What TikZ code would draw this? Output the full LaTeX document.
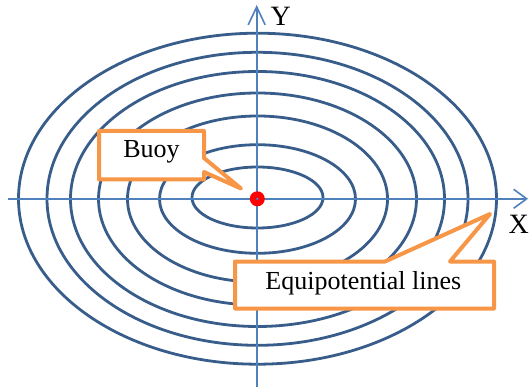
\documentclass[tikz,border=0pt]{standalone}
\usepackage{fontspec}
\setmainfont{Liberation Serif}
\usetikzlibrary{arrows.meta}
\definecolor{ellblue}{HTML}{385D8A}
\definecolor{axblue}{HTML}{4F81BD}
\definecolor{calloutorange}{HTML}{F79646}
\begin{document}
\begin{tikzpicture}[x=1pt,y=-1pt,
  equi/.style={draw=ellblue,line width=2.8pt},
  axisline/.style={draw=axblue,line width=1.6pt},
  calloutbox/.style={draw=calloutorange,fill=white,line width=4pt,line join=round},
  lbl/.style={inner sep=0pt,anchor=base,font=\fontsize{26}{30}\selectfont},
  axlbl/.style={inner sep=0pt,anchor=base west,font=\fontsize{28}{32}\selectfont}]
\useasboundingbox (0,0) rectangle (529,387);
\coordinate (O) at (257.3,198.8);
\foreach \a/\b/\c in {65.5/30.5/197.5, 98/54.3/199, 130/83/199, 159/106/199, 187/127.5/199, 210.5/146.5/198.8, 239/165.5/198.7}
  \draw[equi] (257.5,\c) ellipse [x radius=\a, y radius=\b];
% axes
\coordinate (xs) at (8,198.8);
\coordinate (xe) at (528,198.8);
\coordinate (ys) at (256.7,390);
\coordinate (ye) at (256.7,5);
\draw[axisline,-{Straight Barb[length=13pt,width=19pt]}] (xs) -- (xe);
\draw[axisline,-{Straight Barb[length=18pt,width=17pt]}] (ys) -- (ye);
% buoy
\node[circle,fill=red,minimum size=15pt,inner sep=0pt] (buoy) at (O) {};
\node[circle,fill=axblue,minimum size=2.8pt,inner sep=0pt] (buoyc) at (O) {};
% callouts
\coordinate (btip) at (241,188.5);
\draw[calloutbox] (99,131) -- (204,131) -- (204,158) -- (btip) -- (204,172) -- (204,179.5) -- (99,179.5) -- cycle;
\node[lbl] (buoytxt) at (151.5,157.7) {Buoy};
\coordinate (etip) at (490,214);
\draw[calloutbox] (235,261.5) -- (385,261.5) -- (etip) -- (450,261.5) -- (494,261.5) -- (494,308.5) -- (235,308.5) -- cycle;
\node[lbl] (equitxt) at (363.3,289.3) {Equipotential lines};
% axis labels
\node[axlbl] (ylab) at (270.5,26) {Y};
\node[axlbl] (xlab) at (508.5,233.3) {X};
\end{tikzpicture}
\end{document}
